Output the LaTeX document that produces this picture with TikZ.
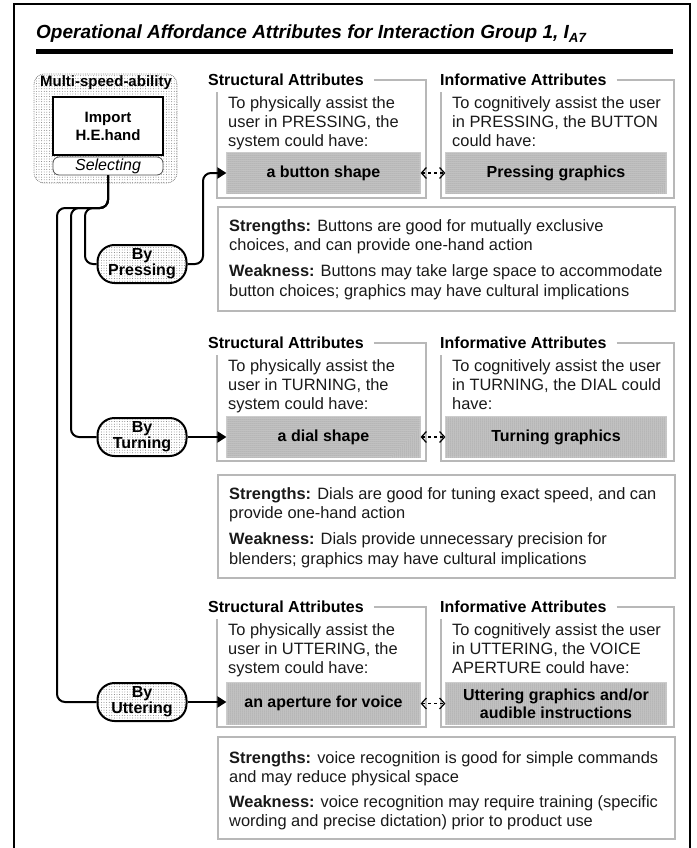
\documentclass[tikz,border=0pt]{standalone}
\usepackage{fontspec}
\setmainfont{Liberation Sans}
\usetikzlibrary{arrows.meta,patterns.meta,calc}

\tikzset{
  lbl/.style={font=\bfseries\fontsize{16}{19}\selectfont, anchor=west, inner sep=0pt},
  body/.style={font=\fontsize{16.4}{19}\selectfont, align=left, anchor=north west, inner sep=0pt, text=black!90},
  note/.style={font=\fontsize{16.4}{19.5}\selectfont, align=left, anchor=north west, inner sep=0pt, text=black!90},
  frameline/.style={draw=black!28, line width=1.6pt},
  panel/.style={draw=black!28, line width=1.8pt, anchor=north west, inner sep=0pt},
  graybox/.style={draw=black!20, line width=1.2pt, fill=black!22,
    postaction={pattern={Dots[distance=2pt,radius=0.5pt]}, pattern color=black!50},
    font=\bfseries\fontsize{16}{18}\selectfont, align=center, inner sep=0pt},
  lightdots/.style={pattern={Dots[distance=2.6pt,radius=0.45pt]}, pattern color=black!60},
  bynode/.style={draw, line width=2pt, rounded corners=17pt, lightdots,
    minimum width=89pt, minimum height=38pt, inner sep=0pt, align=center,
    font=\bfseries\fontsize{16}{16}\selectfont},
  conn/.style={line width=2pt, rounded corners=8pt, line join=round},
  tip/.style={-{Triangle[length=9pt,width=11pt]}},
  link/.style={dashed, line width=1.2pt, {Straight Barb[length=5pt,width=11pt]}-{Straight Barb[length=5pt,width=11pt]}}
}

\begin{document}
\begin{tikzpicture}[x=1pt,y=-1pt]
\useasboundingbox (0,0) rectangle (696,848);

% page frame (open at the bottom)
\draw[line width=2pt] (14,848) -- (14,4) -- (690,4) -- (690,848);

% heading and rule
\node[anchor=base west, inner sep=0pt, font=\bfseries\itshape\fontsize{19}{21}\selectfont] (title) at (36,39)
  {Operational Affordance Attributes for Interaction Group 1, I\textsubscript{A7}};
\draw[line width=5pt] (36,52) -- (673,52);

% requirement block
\node[draw=black!45, densely dotted, line width=0.8pt, rounded corners=10pt, lightdots,
      minimum width=143pt, minimum height=109pt] (ms) at (105.5,128.5) {};
\node[anchor=base, inner sep=0pt, font=\bfseries\fontsize{15}{17}\selectfont] (mslbl) at (106,87) {Multi-speed-ability};
\node[draw, line width=2pt, fill=white, minimum width=110pt, minimum height=58pt, align=center,
      font=\bfseries\fontsize{15}{18}\selectfont] (imp) at (108,126) {Import\\H.E.hand};
\node[draw=black!70, line width=0.8pt, fill=white, rounded corners=6pt, minimum width=110pt,
      minimum height=18pt, inner sep=0pt, font=\itshape\fontsize{16}{18}\selectfont] (sel) at (108,166) {Selecting};

% interaction modes
\node[bynode] (press) at (142,264) {By\\Pressing};
\node[bynode] (turn) at (142,437) {By\\Turning};
\node[bynode] (utter) at (142,702) {By\\Uttering};

% ---------- pressing ----------
\node[lbl] (sh1) at (208,80) {Structural Attributes};
\draw[frameline] ([xshift=10pt]sh1.east) -- (426,80) -- (426,198) -- (217,198) -- (217,92);
\node[body] (st1) at (228,94.7) {\strut To physically assist the\\user in PRESSING, the\\system could have:};
\node[graybox, minimum width=193pt, minimum height=40pt] (sg1) at (323.5,173) {a button shape};
\node[lbl] (ih1) at (440,80) {Informative Attributes};
\draw[frameline] ([xshift=10pt]ih1.east) -- (674,80) -- (674,198) -- (441,198) -- (441,92);
\node[body] (it1) at (452,94.7) {\strut To cognitively assist the user\\in PRESSING, the BUTTON\\could have:};
\node[graybox, minimum width=220pt, minimum height=40pt] (ig1) at (556,173) {Pressing graphics};
\draw[link] (sg1) -- (ig1);
\node[panel, minimum width=457pt, minimum height=104pt] (sw1) at (217,206) {};
\node[note] (swt1) at (229,217.35) {\strut\textbf{Strengths:} Buttons are good for mutually exclusive\\choices, and can provide one-hand action\\[6.5pt]
  \textbf{Weakness:} Buttons may take large space to accommodate\\button choices; graphics may have cultural implications};

% ---------- turning ----------
\node[lbl] (sh2) at (208,343) {Structural Attributes};
\draw[frameline] ([xshift=10pt]sh2.east) -- (426,343) -- (426,461) -- (217,461) -- (217,355);
\node[body] (st2) at (228,357.7) {\strut To physically assist the\\user in TURNING, the\\system could have:};
\node[graybox, minimum width=193pt, minimum height=40pt] (sg2) at (323.5,437) {a dial shape};
\node[lbl] (ih2) at (440,343) {Informative Attributes};
\draw[frameline] ([xshift=10pt]ih2.east) -- (674,343) -- (674,461) -- (441,461) -- (441,355);
\node[body] (it2) at (452,357.7) {\strut To cognitively assist the user\\in TURNING, the DIAL could\\have:};
\node[graybox, minimum width=220pt, minimum height=40pt] (ig2) at (556,437) {Turning graphics};
\draw[link] (sg2) -- (ig2);
\node[panel, minimum width=457pt, minimum height=103pt] (sw2) at (217,474) {};
\node[note] (swt2) at (229,485.35) {\strut\textbf{Strengths:} Dials are good for tuning exact speed, and can\\provide one-hand action\\[6.5pt]
  \textbf{Weakness:} Dials provide unnecessary precision for\\blenders; graphics may have cultural implications};

% ---------- uttering ----------
\node[lbl] (sh3) at (208,607) {Structural Attributes};
\draw[frameline] ([xshift=10pt]sh3.east) -- (426,607) -- (426,727) -- (217,727) -- (217,619);
\node[body] (st3) at (228,621.7) {\strut To physically assist the\\user in UTTERING, the\\system could have:};
\node[graybox, minimum width=193pt, minimum height=41pt] (sg3) at (323.5,703.5) {an aperture for voice};
\node[lbl] (ih3) at (440,607) {Informative Attributes};
\draw[frameline] ([xshift=10pt]ih3.east) -- (674,607) -- (674,727) -- (441,727) -- (441,619);
\node[body] (it3) at (452,621.7) {\strut To cognitively assist the user\\in UTTERING, the VOICE\\APERTURE could have:};
\node[graybox, minimum width=220pt, minimum height=41pt] (ig3) at (556,703.5) {Uttering graphics and/or\\audible instructions};
\draw[link] (sg3) -- (ig3);
\node[panel, minimum width=457pt, minimum height=102pt] (sw3) at (217,736) {};
\node[note] (swt3) at (229,749.35) {\strut\textbf{Strengths:} voice recognition is good for simple commands\\and may reduce physical space\\[5pt]
  \textbf{Weakness:} voice recognition may require training (specific\\wording and precise dictation) prior to product use};

% connectors from the selecting step
\draw[conn] (sel.south) -- (108,208) -- (85,208) -- (85,264) -- (press.west);
\draw[conn] (sel.south) -- (108,208) -- (71,208) -- (71,437) -- (turn.west);
\draw[conn] (sel.south) -- (108,208) -- (57,208) -- (57,702) -- (utter.west);
\draw[conn, tip] (press.east) -- (203,264) -- (203,173) -- (sg1.west);
\draw[conn, tip] (turn.east) -- (sg2.west);
\draw[conn, tip] (utter.east) -- (utter.east -| sg3.west);
\end{tikzpicture}
\end{document}
